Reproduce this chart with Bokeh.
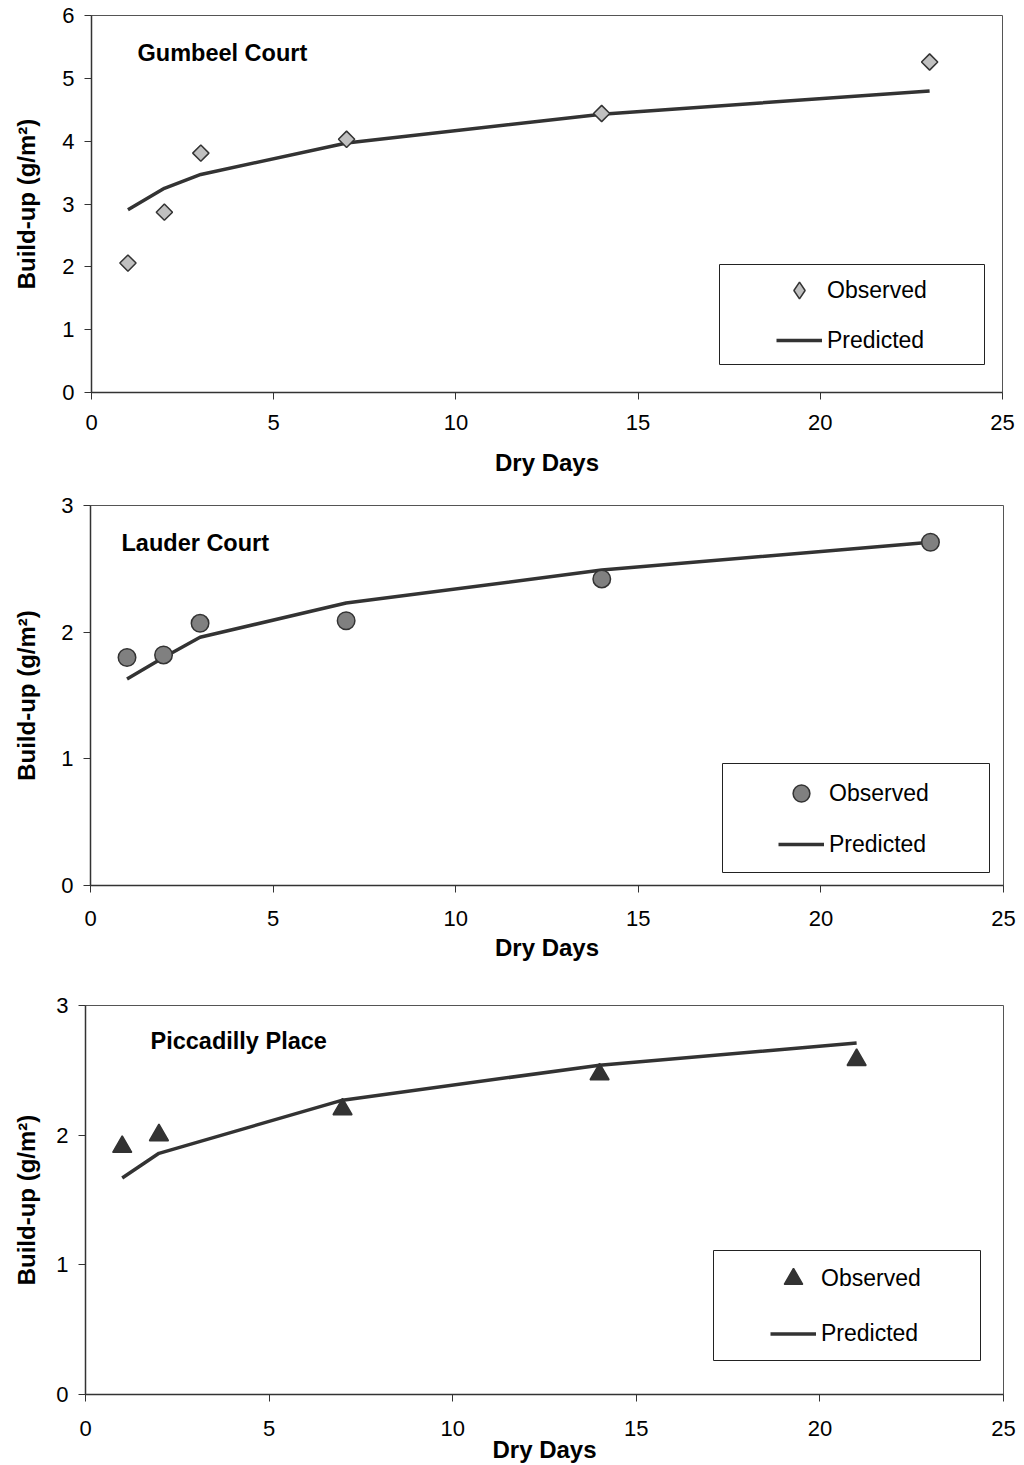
import numpy as np
from bokeh.plotting import figure
from bokeh.models import (Legend, LegendItem, BoxAnnotation, Label,
                          SingleIntervalTicker, Range1d, CDSView, IndexFilter,
                          ColumnDataSource)
from bokeh.layouts import column
from bokeh.embed import file_html
from bokeh.resources import INLINE

# ---------------- data ----------------
days_gumbeel = [1, 2, 3, 7, 14, 23]
obs_gumbeel = [2.06, 2.87, 3.81, 4.03, 4.44, 5.26]
pred_gumbeel = [2.91, 3.25, 3.47, 3.97, 4.43, 4.80]

days_lauder = [1, 2, 3, 7, 14, 23]
obs_lauder = [1.80, 1.82, 2.07, 2.09, 2.42, 2.71]
pred_lauder = [1.63, 1.80, 1.96, 2.23, 2.49, 2.71]

days_picc = [1, 2, 7, 14, 21]
obs_picc = [1.91, 2.00, 2.20, 2.47, 2.58]
pred_picc = [1.67, 1.86, 2.27, 2.54, 2.71]

site_names = ["Gumbeel Court", "Lauder Court", "Piccadilly Place"]
x_label = "Dry Days"
y_label = "Build-up (g/m\u00b2)"
legend_labels = ["Observed", "Predicted"]

FONT = "Liberation Sans"
DARK = "#333333"


def make_panel(days, obs, pred, name, ymax, st):
    p = figure(width=1024, height=st["h"], output_backend="svg",
               toolbar_location=None,
               x_range=Range1d(0, 25), y_range=Range1d(0, ymax),
               min_border_left=st["left"], min_border_right=st["right"],
               min_border_top=st["top"], min_border_bottom=st["bottom"])
    p.background_fill_color = "white"
    p.border_fill_color = "white"
    p.outline_line_color = "#555555"
    p.outline_line_width = 1
    p.xgrid.grid_line_color = None
    p.ygrid.grid_line_color = None

    p.xaxis.ticker = SingleIntervalTicker(interval=5, num_minor_ticks=0)
    p.yaxis.ticker = SingleIntervalTicker(interval=1, num_minor_ticks=0)
    for ax in (p.xaxis[0], p.yaxis[0]):
        ax.axis_line_color = DARK
        ax.axis_line_width = 1.5
        ax.major_tick_line_color = DARK
        ax.major_tick_line_width = 1
        ax.major_tick_in = 0
        ax.major_tick_out = 7
        ax.minor_tick_line_color = None
        ax.major_label_text_font = FONT
        ax.major_label_text_font_size = "22px"
        ax.major_label_text_color = "black"
        ax.axis_label_text_font = FONT
        ax.axis_label_text_font_style = "bold"
        ax.axis_label_text_font_size = "24px"
        ax.axis_label_text_color = "black"
    p.xaxis.axis_label = x_label
    p.yaxis.axis_label = y_label
    p.xaxis.major_label_standoff = st["xstand"]
    p.xaxis.axis_label_standoff = st["xlabstand"]
    p.yaxis.major_label_standoff = 10
    p.yaxis.axis_label_standoff = st["ylabstand"]

    src = ColumnDataSource(dict(day=days, obs=obs))
    leg_marker = None
    if st.get("legmarker"):
        # legend glyph: one upright diamond hidden beneath the first observed marker
        leg_marker = p.scatter("day", "obs", source=src,
                               view=CDSView(filter=IndexFilter([0])),
                               marker=st["legmarker"], size=st["msize"],
                               fill_color=st["mfill"], line_color=DARK,
                               line_width=1.5)
    ln = p.line(days, pred, line_color=DARK, line_width=3.5)
    sc = p.scatter("day", "obs", source=src, marker=st["marker"],
                   size=st["msize"], angle=st.get("angle", 0.0),
                   fill_color=st["mfill"], line_color=DARK, line_width=1.5)
    if leg_marker is None:
        leg_marker = sc

    p.add_layout(BoxAnnotation(left=st["box"][0], right=st["box"][1],
                               top=st["box"][2], bottom=st["box"][3],
                               left_units="screen", right_units="screen",
                               top_units="screen", bottom_units="screen",
                               fill_alpha=0, fill_color=None,
                               line_color="#222222", line_alpha=1.0,
                               line_width=1))

    legend = Legend(items=[LegendItem(label=legend_labels[0], renderers=[leg_marker]),
                           LegendItem(label=legend_labels[1], renderers=[ln])],
                    location=st["legloc"], padding=0, margin=0,
                    spacing=st["spacing"], glyph_width=46,
                    glyph_height=st["gh"], label_height=st["gh"],
                    label_standoff=5, label_text_font=FONT,
                    label_text_font_size="23px", label_text_color="black",
                    border_line_alpha=0, background_fill_alpha=0)
    p.add_layout(legend)

    p.add_layout(Label(x=st["title"][0], y=st["title"][1], x_units="screen",
                       y_units="screen", text=name, text_font=FONT,
                       text_font_style="bold", text_font_size="23.5px",
                       text_baseline="alphabetic", text_color="black"))
    return p


st1 = dict(h=490, left=91, right=22, top=15, bottom=98, xstand=15, xlabstand=16,
           ylabstand=19,
           marker="square", msize=11.5, angle=np.pi / 4, mfill="#c0c0c0",
           legmarker="diamond",
           box=(628, 893, 128, 28), legloc=(685, 31), spacing=8, gh=42,
           title=(46, 340))
st2 = dict(h=495, left=90, right=21, top=15, bottom=100, xstand=18, xlabstand=5,
           ylabstand=18,
           marker="circle", msize=17.5, mfill="#808080",
           box=(632, 899, 122, 13), legloc=(688, 20), spacing=9, gh=42,
           title=(31, 343))
st3 = dict(h=480, left=85, right=21, top=20, bottom=71, xstand=19, xlabstand=-3,
           ylabstand=13,
           marker="triangle", msize=19, mfill=DARK,
           box=(628, 895, 144, 34), legloc=(685, 37), spacing=8, gh=47,
           title=(65, 354))

p1 = make_panel(days_gumbeel, obs_gumbeel, pred_gumbeel, site_names[0], 6, st1)
p2 = make_panel(days_lauder, obs_lauder, pred_lauder, site_names[1], 3, st2)
p3 = make_panel(days_picc, obs_picc, pred_picc, site_names[2], 3, st3)

layout = column(column(p1), column(p2), column(p3), spacing=0)
open("out.html", "w").write(file_html(layout, INLINE))
